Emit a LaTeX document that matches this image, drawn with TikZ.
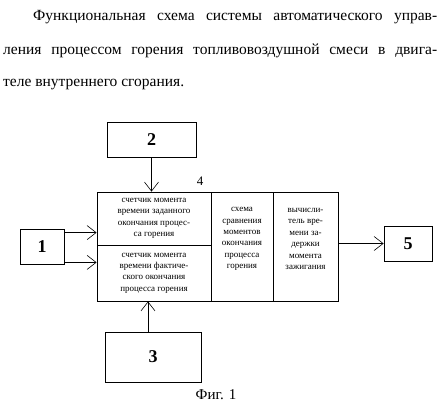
\documentclass[tikz,border=0pt]{standalone}
\usepackage{fontspec}
\setmainfont{Liberation Serif}
\usetikzlibrary{arrows.meta}

\begin{document}
\begin{tikzpicture}[x=1pt,y=-1pt,
		blk/.style={draw,line width=0.8pt,inner sep=0pt},
		cell/.style={draw,line width=0.8pt,inner sep=0pt,align=center,font=\fontsize{9}{11.4}\selectfont},
		txt/.style={inner sep=0pt,align=center,font=\fontsize{9}{11.4}\selectfont},
		num/.style={font=\fontsize{18}{18}\selectfont\bfseries},
		ttl/.style={anchor=base west,inner sep=0pt,font=\fontsize{15.5}{17}\selectfont},
		arr/.style={line width=0.6pt,-{Straight Barb[length=9pt,width=14pt]}}]
		\useasboundingbox (0,0) rectangle (444,409);

		% title
		\node[ttl] (t1) at (33,21) {\makebox[404pt][s]{Функциональная схема системы автоматического управ-}};
		\node[ttl] (t2) at (3,55) {\makebox[434pt][s]{ления процессом горения топливовоздушной смеси в двига-}};
		\node[ttl] (t3) at (3,87) {теле внутреннего сгорания.};

		% block 4
		\node[cell,minimum width=114,minimum height=53] (c1a) at (154,218.5) {счетчик момента\\времени заданного\\окончания процес-\\са горения};
		\node[cell,minimum width=114,minimum height=56] (c1b) at (154,273) {счетчик момента\\времени фактиче-\\ского окончания\\процесса горения};
		\node[cell,minimum width=62,minimum height=109] (c2) at (242,246.5) {};
		\node[cell,minimum width=65,minimum height=109] (c3) at (305.5,246.5) {};
		\node[txt] (t4) at (242,239) {схема\\сравнения\\моментов\\окончания\\процесса\\горения};
		\node[txt] (t5) at (305.5,239) {вычисли-\\тель вре-\\мени за-\\держки\\момента\\зажигания};
		\node[font=\fontsize{13}{13}\selectfont] (n4) at (200,181) {4};

		% outer blocks
		\node[blk,num,minimum width=44,minimum height=35] (b1) at (42,246.5) {1};
		\node[blk,num,minimum width=89,minimum height=35] (b2) at (151.5,139.5) {2};
		\node[blk,num,minimum width=96,minimum height=50] (b3) at (153,357) {3};
		\node[blk,num,minimum width=48,minimum height=35] (b5) at (408,243.5) {5};

		\draw[arr] (b2.south) -- (b2.south |- c1a.north);
		\draw[arr] ([yshift=-4pt]b1.north east) coordinate (p1) -- (p1 -| c1a.west);
		\draw[arr] ([yshift=2pt]b1.south east) coordinate (p2) -- (p2 -| c1b.west);
		\draw[arr] ([xshift=-5pt]b3.north) coordinate (p3) -- (p3 |- c1b.south);
		\draw[arr] (b5.west -| c3.east) -- (b5.west);

		\node[font=\fontsize{15}{15}\selectfont] (fig) at (216,395) {Фиг. 1};
\end{tikzpicture}
\end{document}
